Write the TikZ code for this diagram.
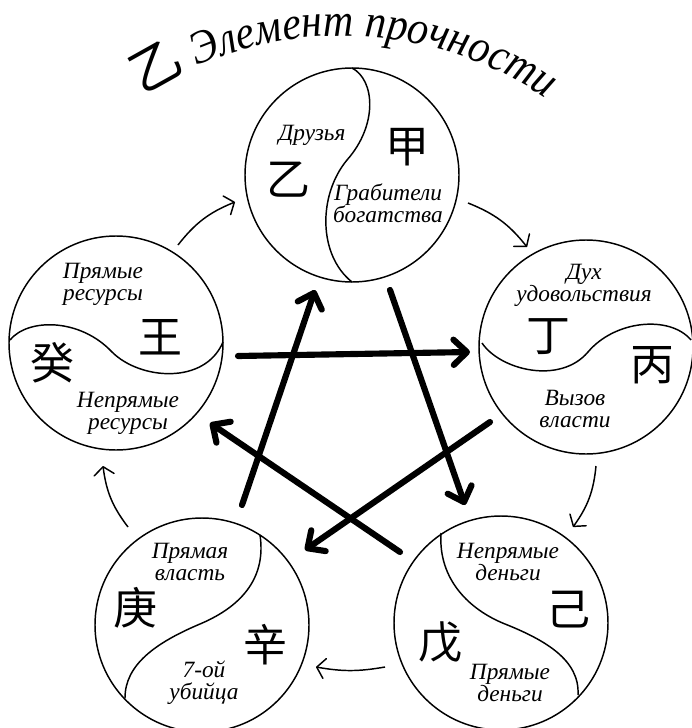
\documentclass[tikz,border=0pt]{standalone}
\usepackage{fontspec}
\setmainfont{Liberation Serif}
\newfontfamily\titlefont[FakeStretch=0.9]{Liberation Serif}
\newfontfamily\cjk{Noto Sans CJK SC}
\usetikzlibrary{arrows.meta,decorations.text}
\begin{document}
\begin{tikzpicture}[x=0.75pt,y=-0.75pt]
\tikzset{
 ring/.style={draw, circle, minimum size=160.5pt, inner sep=0pt, line width=1.1pt},
 lbl/.style={font=\itshape\fontsize{17.5}{16.5}\selectfont, align=center, inner sep=0pt},
 han/.style={font=\cjk\fontsize{33}{33}\selectfont, inner sep=0pt},
 sline/.style={line width=1.1pt},
 cyclearrow/.style={line width=1.1pt, -{Straight Barb[length=6pt,width=15pt,round]}},
 stararrow/.style={line width=4.6pt, line cap=round, -{Straight Barb[length=10pt,width=19pt,round]}},
}
\fill[white] (0,0) rectangle (692,728);
\useasboundingbox (0,0) rectangle (692,728);

% title
\coordinate (tc) at (342,400);
\path[decorate, decoration={text along path, text align=center,
  text={|\cjk\fontsize{38}{38}\selectfont|乙|\titlefont\itshape\fontsize{35}{35}\selectfont| Элемент прочности}}]
  (tc) ++(-128:364) arc[start angle=-128, end angle=-51, radius=364];

% circles
\node[ring] (T) at (352,175) {};
\node[ring] (R) at (586,347) {};
\node[ring] (L) at (116,343) {};
\node[ring] (BL) at (202,625) {};
\node[ring] (BR) at (501,623) {};

% S curves
\draw[sline] (352,68) .. controls (375,80) and (378,125) .. (347,160) .. controls (318,195) and (318,255) .. (352,282);
\draw[sline] (482,343) .. controls (500,370) and (560,385) .. (588,352) .. controls (615,320) and (670,315) .. (691,340);
\draw[sline] (10,340) .. controls (28,318) and (80,318) .. (112,352) .. controls (140,380) and (205,385) .. (223,342);
\draw[sline] (260,535) .. controls (266,575) and (245,605) .. (200,624) .. controls (155,643) and (125,665) .. (125,698);
\draw[sline] (441,533) .. controls (438,580) and (470,610) .. (505,624) .. controls (545,640) and (580,660) .. (578,695);

% top circle
\node[lbl] (t1) at (312,135) {Друзья};
\node[han] (t2) at (288,180) {乙};
\node[han] (t3) at (407,147) {甲};
\node[lbl] (t4) at (388,203) {Грабители\\богатства};
% right circle
\node[lbl] (r1) at (584,285) {Дух\\удовольствия};
\node[han] (r2) at (548,337) {丁};
\node[han] (r3) at (652,365) {丙};
\node[lbl] (r4) at (575,409) {Вызов\\власти};
% left circle
\node[lbl] (l1) at (103,284) {Прямые\\ресурсы};
\node[han] (l2) at (160,337) {王};
\node[han] (l3) at (52,363) {癸};
\node[lbl] (l4) at (128,413) {Непрямые\\ресурсы};
% bottom-left circle
\node[lbl] (bl1) at (190,562) {Прямая\\власть};
\node[han] (bl2) at (135,608) {庚};
\node[han] (bl3) at (265,645) {辛};
\node[lbl] (bl4) at (204,683) {7-ой\\убийца};
% bottom-right circle
\node[lbl] (br1) at (508,562) {Непрямые\\деньги};
\node[han] (br2) at (568,610) {己};
\node[han] (br3) at (440,642) {戊};
\node[lbl] (br4) at (510,683) {Прямые\\деньги};

% outer cycle arrows
\coordinate (c1a) at (178,245); \coordinate (c1b) at (235,202);
\coordinate (c2a) at (468,203); \coordinate (c2b) at (527,247);
\coordinate (c3a) at (596,466); \coordinate (c3b) at (573,527);
\coordinate (c4a) at (385,667); \coordinate (c4b) at (316,667);
\coordinate (c5a) at (128,527); \coordinate (c5b) at (103,466);
\draw[cyclearrow] (c1a) to[bend left=15] (c1b);
\draw[cyclearrow] (c2a) to[bend left=15] (c2b);
\draw[cyclearrow] (c3a) to[bend left=15] (c3b);
\draw[cyclearrow] (c4a) to[bend left=10] (c4b);
\draw[cyclearrow] (c5a) to[bend left=15] (c5b);

% star arrows
\coordinate (sa1) at (242,505); \coordinate (sa2) at (315,290);
\coordinate (sb1) at (390,290); \coordinate (sb2) at (465,505);
\coordinate (sc1) at (238,356); \coordinate (sc2) at (470,352);
\coordinate (sd1) at (490,422); \coordinate (sd2) at (305,550);
\coordinate (se1) at (400,552); \coordinate (se2) at (210,423);
\draw[stararrow] (sa1) -- (sa2);
\draw[stararrow] (sb1) -- (sb2);
\draw[stararrow] (sc1) -- (sc2);
\draw[stararrow] (sd1) -- (sd2);
\draw[stararrow] (se1) -- (se2);
\end{tikzpicture}
\end{document}
